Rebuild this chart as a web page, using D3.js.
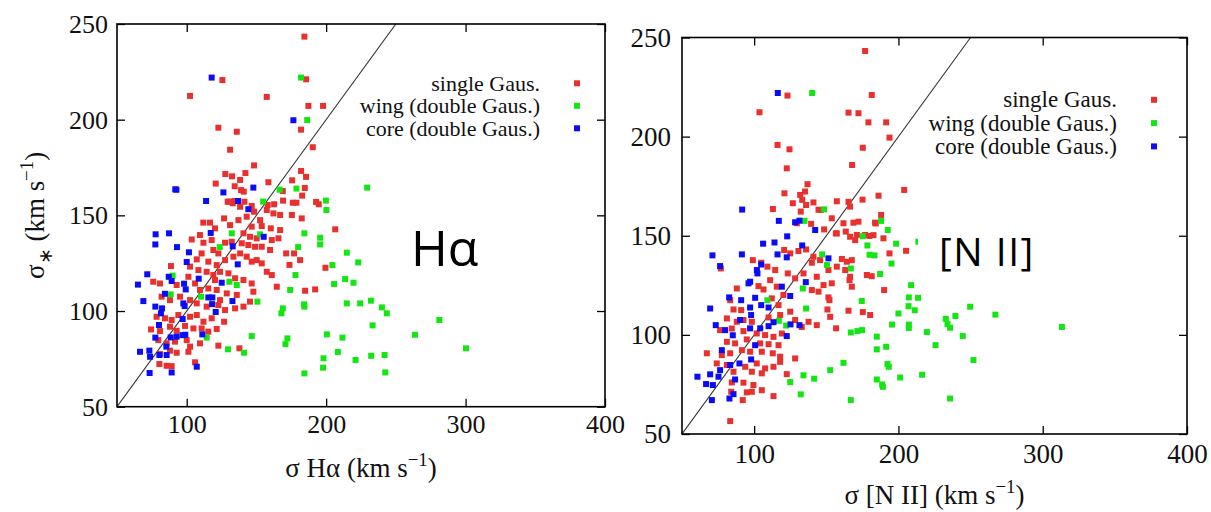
<!DOCTYPE html>
<html>
<head>
<meta charset="utf-8">
<script src="https://cdn.jsdelivr.net/npm/d3@7"></script>
<style>
  html, body { margin: 0; padding: 0; background: #fff; }
  svg { display: block; font-family: "Liberation Serif", "Times New Roman", serif; }
</style>
</head>
<body>
<svg id="fig" width="1211" height="512"></svg>
<script>
// Axis settings shared by both panels (km/s)
const xDomain = [50, 400];
const yDomain = [50, 250];
const xTicks = [100, 200, 300, 400];
const yTicks = [50, 100, 150, 200, 250];
const oneToOne = [[50, 50], [250, 250]];

const seriesNames = ["single Gaus.", "wing (double Gaus.)", "core (double Gaus.)"];
const seriesColors = ["#e8312e", "#14e614", "#0b0bf5"];

// H-alpha panel: [sigma(gas), sigma(stars)]
const haSingle = [
  [184.4,243.4],[125.6,220.7],[102.4,212.4],[157.4,211.9],[185.6,221.1],[187.3,207.2],[197.8,207.2],
  [122.7,195.8],[135.9,193.7],[182.0,194.8],[131.1,184.3],[190.4,185.6],[148.3,176.1],[127.7,171.6],
  [132.5,170.4],[142.1,172.1],[138.3,168.5],[120.8,166.6],[134.4,165.2],[140.9,162.4],[158.6,167.3],
  [182.0,173.2],[185.6,170.1],[175.6,168.3],[184.7,164.3],[182.8,160.3],[168.9,162.7],[162.7,155.8],
  [169.1,157.7],[176.1,156.6],[178.7,156.6],[192.8,157.0],[194.7,155.8],[130.6,157.2],[134.4,157.5],
  [139.0,163.2],[141.4,157.1],[129.4,157.1],[133.0,156.3],[158.1,155.4],
  [138.3,154.5],[146.6,154.9],[148.3,151.9],[157.4,152.8],[162.2,151.0],[167.0,150.2],[175.4,150.2],
  [182.5,148.4],[143.0,149.3],[137.1,147.5],[152.6,147.5],[111.9,146.2],[116.7,146.2],[126.8,148.4],
  [131.1,144.9],[146.6,144.1],[153.8,144.4],[160.3,143.2],[167.0,142.3],[206.5,142.7],[109.5,139.7],
  [103.6,137.4],[120.3,143.2],[140.7,140.6],[145.4,138.8],[150.2,138.0],[161.0,137.1],[165.8,138.0],
  [112.0,135.7],[117.9,137.1],[127.5,135.7],[132.3,136.2],[139.5,135.4],[144.2,134.5],[149.0,133.6],
  [153.8,133.6],[159.8,131.9],[171.3,130.1],[177.0,130.1],[88.7,123.5],[107.2,127.0],[110.7,130.1],
  [119.1,131.9],[122.7,130.1],[115.5,125.8],[121.5,124.0],[127.5,126.6],[133.5,128.4],[138.3,130.1],
  [143.0,128.4],[146.6,125.8],[153.8,124.9],[157.4,120.5],[161.0,118.8],[164.6,112.7],[181.3,126.6],
  [192.1,111.3],[184.9,110.6],[199.5,122.6],[173.7,124.1],[102.4,123.2],[108.4,121.4],[114.3,120.5],
  [119.1,118.8],[123.9,120.5],[129.9,119.7],[134.7,117.1],[140.7,116.2],[146.6,114.4],[76.0,115.3],
  [80.8,114.4],[92.8,113.6],[101.2,117.9],[106.0,114.4],[109.5,111.0],[115.5,111.8],[121.5,111.0],
  [128.7,109.2],[135.9,108.4],[145.4,104.9],[140.7,102.3],[82.0,107.5],[88.0,105.7],[95.2,107.5],
  [102.4,105.7],[107.2,104.0],[114.3,102.3],[122.7,103.1],[127.5,100.5],[134.7,101.4],[78.4,97.0],
  [84.4,96.2],[89.2,95.3],[94.0,97.9],[102.4,97.0],[107.2,97.9],[112.0,94.4],[117.9,96.2],
  [121.5,90.6],[126.8,94.4],[74.4,90.4],[80.8,89.5],[88.0,91.8],[92.8,89.7],[98.8,92.2],
  [104.8,90.9],[110.7,90.9],[115.5,89.2],[79.6,84.8],[85.6,83.1],[91.6,84.0],[100.0,84.8],
  [102.4,81.4],[109.5,83.1],[122.7,81.9],[137.8,80.5],[80.8,77.5],[88.0,79.3],[92.8,78.2],
  [101.2,78.7],[80.4,72.3],[85.6,71.4],[89.2,71.2],[106.0,73.2],[120.3,116.2],[147.8,110.1],
  [150.2,126.6],[123.9,105.7]
];
const haWing = [
  [182.0,222.0],[186.4,199.8],[229.4,164.5],[166.7,163.4],[178.7,164.0],[154.8,157.2],[199.8,157.7],
  [200.2,152.8],[132.3,140.6],[123.7,133.4],[152.6,140.1],[184.4,140.6],[195.7,138.3],[195.7,134.8],
  [179.9,133.4],[214.8,130.5],[223.0,125.4],[204.5,124.0],[213.6,116.7],[219.6,114.8],[205.7,114.1],
  [178.0,118.8],[174.2,111.0],[130.6,115.3],[135.9,113.6],[110.3,107.5],[150.7,104.9],[168.9,101.4],
  [167.9,98.8],[184.2,103.5],[184.4,102.3],[214.8,104.0],[224.4,104.0],[232.1,105.4],[240.0,101.9],
  [243.5,98.8],[233.3,92.5],[146.6,86.9],[114.3,86.1],[172.2,85.7],[170.8,82.7],[200.5,87.8],
  [211.7,86.1],[129.6,80.0],[141.1,78.2],[198.1,75.3],[208.4,78.6],[221.1,74.4],[232.3,76.6],
  [241.9,77.0],[197.8,70.4],[184.4,67.4],[242.4,67.9],[88.5,108.7],[89.9,118.5],[263.7,87.6],
  [281.2,95.3],[300.3,80.5]
];
const haCore = [
  [117.9,222.0],[176.5,199.7],[91.8,163.6],[92.6,163.4],[113.9,157.5],[126.3,162.0],[136.8,157.5],
  [147.8,164.5],[144.2,153.2],[77.7,140.1],[77.5,134.8],[87.3,140.6],[93.0,133.4],[101.6,130.7],
  [100.0,125.6],[117.2,140.8],[155.2,138.8],[133.0,133.8],[136.6,124.4],[71.7,119.2],[65.0,113.8],
  [68.9,105.2],[87.1,117.9],[89.2,115.7],[84.4,109.0],[98.1,114.3],[99.3,111.3],[108.6,116.9],
  [125.1,114.8],[115.5,107.1],[118.4,107.1],[118.2,103.6],[120.8,99.5],[132.8,105.2],[77.5,102.3],
  [82.3,101.4],[81.5,98.8],[97.6,104.0],[98.5,102.6],[97.1,95.8],[80.1,92.7],[77.5,86.1],
  [88.5,86.2],[92.8,86.6],[97.1,87.4],[99.0,87.6],[111.2,87.8],[66.5,78.7],[73.2,79.3],
  [73.7,76.1],[85.4,81.4],[85.6,77.0],[80.4,77.0],[73.4,67.6],[89.2,67.9],[107.2,70.9]
];

// [N II] panel: [sigma(gas), sigma(stars)]
const niiSingle = [
  [176.9,243.2],[123.1,220.7],[181.5,221.0],[103.7,212.3],[165.4,212.1],[172.3,211.8],[179.2,207.2],
  [191.5,207.2],[193.8,199.5],[116.2,195.8],[124.5,193.6],[175.3,194.4],[122.6,184.0],[167.9,185.7],
  [137.0,176.0],[135.3,172.3],[131.9,170.6],[121.0,171.4],[126.8,166.4],[133.3,168.1],[141.1,166.8],
  [144.6,163.1],[136.0,165.5],[157.3,167.4],[165.4,167.1],[166.5,164.7],[175.1,168.2],[186.2,170.2],
  [204.0,173.1],[113.0,163.5],[132.3,162.2],[153.8,158.8],[161.9,156.3],[168.8,156.6],[172.3,157.1],
  [183.8,156.6],[188.0,160.5],[139.5,156.0],[129.6,156.3],[146.2,163.0],
  [148.5,153.2],[157.3,151.2],[166.5,149.5],[182.7,150.3],[189.6,148.7],[193.8,141.1],[205.3,142.4],
  [99.1,137.7],[104.9,136.4],[109.2,134.4],[114.6,132.7],[120.8,142.8],[125.0,141.1],[130.7,142.3],
  [136.0,143.1],[141.1,139.4],[140.0,136.4],[145.7,137.7],[151.5,132.7],[157.3,134.4],[163.1,132.7],
  [167.7,137.7],[166.1,127.6],[178.1,130.2],[181.5,129.6],[190.1,122.6],[123.3,131.0],[128.4,128.5],
  [134.2,131.0],[143.4,129.3],[148.1,125.1],[153.8,126.0],[140.0,122.6],[144.6,121.8],[151.5,118.9],
  [152.2,117.5],[165.4,112.2],[175.3,111.5],[180.4,110.0],[156.8,103.3],[143.4,104.9],[150.8,112.8],
  [152.7,109.1],[111.1,127.6],[115.7,124.3],[120.3,120.1],[103.0,124.6],[106.5,122.9],[112.2,118.4],
  [116.9,115.0],[88.0,123.4],[83.4,117.5],[91.0,112.5],[85.7,112.8],[98.4,106.6],[110.0,108.8],
  [118.0,110.0],[125.0,111.7],[128.4,107.5],[133.0,104.0],[137.7,106.6],[81.1,108.3],[88.0,106.6],
  [92.6,107.5],[76.4,102.4],[84.5,103.2],[92.6,101.9],[101.8,100.7],[107.6,99.9],[113.4,99.0],
  [119.2,100.7],[81.1,96.5],[86.8,95.7],[94.9,97.7],[104.2,95.7],[110.0,95.3],[116.9,94.8],
  [67.2,90.7],[77.6,89.8],[83.4,90.7],[91.5,92.3],[97.2,91.5],[105.3,91.5],[112.9,90.7],
  [118.0,89.0],[128.4,88.1],[74.1,85.6],[81.1,84.8],[93.8,83.9],[101.8,85.6],[107.6,83.1],
  [113.4,83.9],[118.0,86.4],[122.6,80.2],[85.7,81.4],[98.4,81.4],[105.3,80.6],[84.5,76.0],
  [92.6,75.9],[99.5,74.7],[84.1,71.3],[94.9,71.0],[98.4,71.3],[105.3,72.1],[113.4,69.1],
  [92.1,67.1],[83.4,56.5],[76.9,133.5],[184.3,156.2],[179.9,149.9],[176.9,150.4],[171.2,150.4],
  [170.0,147.8],[160.8,138.3],[164.2,136.9],[166.5,129.3],[167.7,124.3],[156.6,151.2],[163.5,152.1]
];
const niiWing = [
  [140.2,222.0],[148.5,163.3],[134.9,157.5],[188.0,157.5],[175.3,149.8],[192.6,152.9],[178.5,145.1],
  [183.4,140.1],[180.0,140.4],[198.4,146.0],[195.2,136.0],[187.3,130.7],[167.0,133.5],[147.1,140.6],
  [150.4,135.2],[133.7,123.4],[136.0,113.3],[109.2,117.5],[117.1,107.1],[122.2,104.7],[208.8,125.1],
  [207.2,118.9],[213.6,118.7],[174.6,117.1],[207.0,114.5],[211.3,112.4],[200.0,110.8],[195.6,105.2],
  [207.2,105.2],[207.2,103.5],[219.7,101.4],[167.0,101.2],[171.6,101.9],[174.8,102.4],[232.8,108.1],
  [234.0,105.4],[235.8,103.6],[239.5,109.5],[249.7,114.2],[267.2,110.2],[244.6,99.4],[225.7,94.8],
  [252.0,87.3],[185.0,99.1],[185.0,92.7],[191.5,94.0],[192.4,85.3],[193.3,83.9],[201.2,78.5],
  [216.4,79.9],[185.0,77.5],[188.7,75.0],[189.2,73.8],[161.9,85.9],[152.7,82.2],[141.6,77.9],
  [134.2,79.6],[125.0,76.2],[132.3,70.0],[167.0,67.1],[235.8,67.9],[313.3,104.0],[213.8,147.0]
];
const niiCore = [
  [116.4,222.0],[91.7,163.2],[117.1,157.5],[128.4,156.8],[131.4,157.6],[142.3,152.9],[71.1,140.1],
  [76.4,134.7],[91.5,140.6],[106.2,146.0],[114.1,146.6],[122.9,149.7],[116.2,140.6],[122.6,139.1],
  [133.3,145.1],[104.9,135.5],[101.9,132.7],[102.3,131.0],[97.2,126.8],[96.1,126.0],[151.5,138.6],
  [135.8,126.6],[82.7,118.9],[91.0,117.5],[69.5,113.3],[100.7,118.7],[97.2,113.8],[104.9,115.0],
  [110.0,113.8],[119.2,124.3],[125.0,119.6],[113.4,106.4],[110.0,104.4],[97.9,110.0],[90.3,107.5],
  [122.6,99.4],[131.4,104.9],[125.2,105.3],[73.4,104.9],[79.9,102.4],[85.2,99.8],[97.2,103.3],
  [104.2,103.3],[100.7,94.8],[77.6,92.3],[97.9,87.6],[83.4,84.8],[89.8,85.6],[76.4,82.2],
  [60.7,78.9],[69.5,80.1],[75.3,78.9],[66.7,75.2],[71.4,74.7],[86.8,77.5],[85.7,70.1],
  [82.9,67.9],[70.7,67.1]
];

const svg = d3.select("#fig");

// Builds "σ<sub>…</sub> … (km s^-1)" style labels with tspans
function axisTitle(sel, parts, size) {
  parts.forEach(p => {
    const t = sel.append("tspan").text(p.t);
    if (p.sub) t.attr("font-size", size * 0.72).attr("dy", size * 0.28);
    if (p.unsub) t.attr("dy", -size * 0.28);
    if (p.sup) t.attr("font-size", size * 0.7).attr("dy", -size * 0.42);
    if (p.unsup) t.attr("dy", size * 0.42);
  });
}

function drawPanel(cfg) {
  const g = svg.append("g");
  const x = d3.scaleLinear().domain(xDomain).range([cfg.left, cfg.right]);
  const y = d3.scaleLinear().domain(yDomain).range([cfg.bottom, cfg.top]);
  const clipId = "clip-" + cfg.id;
  svg.append("clipPath").attr("id", clipId).append("rect")
    .attr("x", cfg.left).attr("y", cfg.top)
    .attr("width", cfg.right - cfg.left).attr("height", cfg.bottom - cfg.top);

  // tick marks point inward on all four sides
  const tick = 8;
  const bottomAxis = g.append("g").attr("transform", `translate(0,${cfg.bottom})`)
    .call(d3.axisBottom(x).tickValues(xTicks).tickSize(-tick).tickPadding(cfg.xPad).tickFormat(d3.format("d")));
  const leftAxis = g.append("g").attr("transform", `translate(${cfg.left},0)`)
    .call(d3.axisLeft(y).tickValues(yTicks).tickSize(-tick).tickPadding(cfg.yPad).tickFormat(d3.format("d")));
  g.append("g").attr("transform", `translate(0,${cfg.top})`)
    .call(d3.axisTop(x).tickValues(xTicks).tickSize(-tick).tickFormat(""));
  g.append("g").attr("transform", `translate(${cfg.right},0)`)
    .call(d3.axisRight(y).tickValues(yTicks).tickSize(-tick).tickFormat(""));
  g.selectAll(".domain").remove();
  g.selectAll(".tick line").attr("stroke", "#000").attr("stroke-width", 1.3);
  [bottomAxis, leftAxis].forEach(a => a.selectAll("text")
    .attr("font-family", "Liberation Serif, serif")
    .attr("font-size", cfg.tickFont).attr("fill", "#111"));

  // 1:1 relation
  g.append("line")
    .attr("clip-path", `url(#${clipId})`)
    .attr("x1", x(oneToOne[0][0])).attr("y1", y(oneToOne[0][1]))
    .attr("x2", x(oneToOne[1][0])).attr("y2", y(oneToOne[1][1]))
    .attr("stroke", "#333").attr("stroke-width", 1.1);

  // scatter points, drawn series by series
  const ms = 6;
  cfg.series.forEach((pts, i) => {
    g.append("g").attr("clip-path", `url(#${clipId})`)
      .selectAll("rect").data(pts).join("rect")
      .attr("x", d => x(d[0]) - ms / 2).attr("y", d => y(d[1]) - ms / 2)
      .attr("width", ms).attr("height", ms)
      .attr("fill", seriesColors[i]);
  });

  // legend
  const lg = g.append("g");
  seriesNames.forEach((name, i) => {
    const yy = cfg.legendY + i * cfg.legendStep;
    lg.append("text").attr("x", cfg.legendTextX).attr("y", yy)
      .attr("text-anchor", "end").attr("dominant-baseline", "central")
      .attr("font-size", cfg.legendFont).attr("fill", "#111").text(name);
    lg.append("rect").attr("x", cfg.legendMarkX - ms / 2).attr("y", yy - ms / 2)
      .attr("width", ms).attr("height", ms).attr("fill", seriesColors[i]);
  });

  // emission line tag
  if (cfg.tagBox) {
    g.append("rect").attr("x", cfg.tagBox[0]).attr("y", cfg.tagBox[1])
      .attr("width", cfg.tagBox[2]).attr("height", cfg.tagBox[3]).attr("fill", "#fff");
  }
  g.append("text").attr("x", cfg.tagX).attr("y", cfg.tagY)
    .attr("font-family", "Open Sans, Noto Sans, sans-serif")
    .attr("font-size", cfg.tagFont).attr("letter-spacing", cfg.tagSpacing || 0)
    .attr("fill", "#000").text(cfg.tag);

  // frame
  g.append("rect").attr("x", cfg.left).attr("y", cfg.top)
    .attr("width", cfg.right - cfg.left).attr("height", cfg.bottom - cfg.top)
    .attr("fill", "none").attr("stroke", "#000").attr("stroke-width", 1.6);

  // axis titles
  const xt = g.append("text").attr("x", (cfg.left + cfg.right) / 2).attr("y", cfg.xTitleY)
    .attr("text-anchor", "middle").attr("font-size", cfg.titleFont).attr("fill", "#111");
  axisTitle(xt, cfg.xTitle, cfg.titleFont);
  if (cfg.yTitle) {
    const yt = g.append("text")
      .attr("transform", `translate(${cfg.yTitleX},${(cfg.top + cfg.bottom) / 2}) rotate(-90)`)
      .attr("text-anchor", "middle").attr("font-size", cfg.titleFont).attr("fill", "#111");
    axisTitle(yt, cfg.yTitle, cfg.titleFont);
  }
}

drawPanel({
  id: "ha", left: 117, right: 605, top: 24, bottom: 406.7,
  series: [haSingle, haWing, haCore],
  tickFont: 26, xPad: 8, yPad: 9,
  legendTextX: 540, legendMarkX: 577, legendY: 83.3, legendStep: 22.5, legendFont: 22,
  tag: "Hα", tagX: 411, tagY: 266, tagFont: 50,
  titleFont: 27, xTitleY: 477,
  xTitle: [{t: "σ Hα (km s"}, {t: "−1", sup: true}, {t: ")", unsup: true}],
  yTitleX: 44,
  yTitle: [{t: "σ"}, {t: "∗", sub: true}, {t: " (km s", unsub: true}, {t: "−1", sup: true}, {t: ")", unsup: true}]
});

drawPanel({
  id: "nii", left: 682, right: 1187, top: 37.5, bottom: 434,
  series: [niiSingle, niiWing, niiCore],
  tickFont: 27, xPad: 10, yPad: 11,
  legendTextX: 1117, legendMarkX: 1154, legendY: 99.8, legendStep: 23.3, legendFont: 23,
  tag: "[N II]", tagX: 939, tagY: 266, tagFont: 39, tagSpacing: 1.5,
  tagBox: [918, 224, 122, 61],
  titleFont: 27, xTitleY: 504,
  xTitle: [{t: "σ [N II] (km s"}, {t: "−1", sup: true}, {t: ")", unsup: true}]
});
</script>
</body>
</html>
